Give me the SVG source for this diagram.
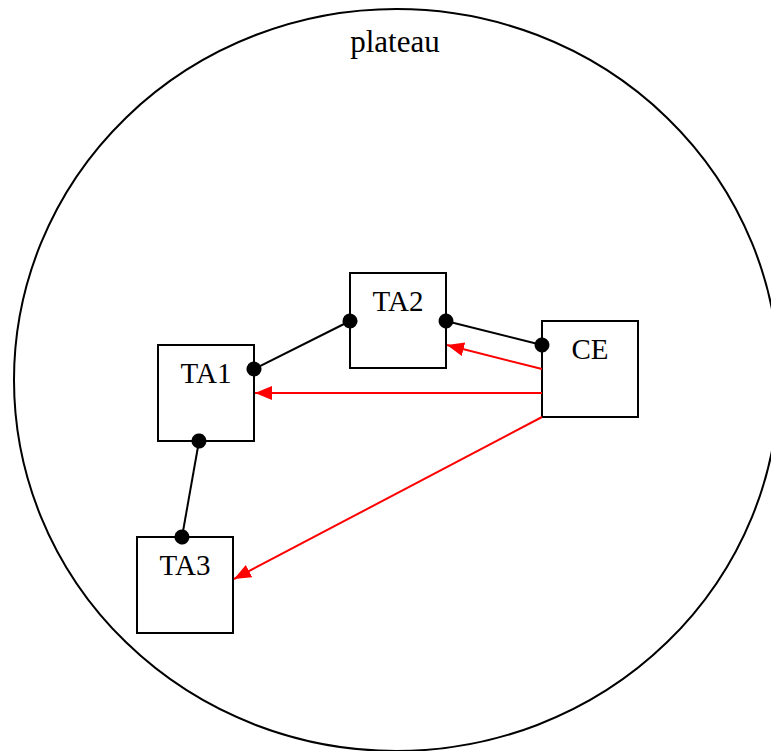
<svg xmlns="http://www.w3.org/2000/svg" width="771" height="751" viewBox="0 0 771 751">
  <style>
    .lbl { font-family: "Liberation Serif", "Times New Roman", serif; font-size: 29px; fill: #000; text-anchor: middle; }
    .title { font-size: 31px; }
    .box { fill: #fff; stroke: #000; stroke-width: 2; }
    .link { stroke: #000; stroke-width: 2; fill: none; marker-start: url(#dot); marker-end: url(#dot); }
    .red { stroke: #ff0000; stroke-width: 2; fill: none; marker-end: url(#arr); }
  </style>
  <defs>
    <marker id="dot" markerUnits="userSpaceOnUse" markerWidth="16" markerHeight="16" refX="8" refY="8" orient="auto">
      <circle cx="8" cy="8" r="7.5" fill="#000"/>
    </marker>
    <marker id="arr" markerUnits="userSpaceOnUse" markerWidth="18" markerHeight="16" refX="17" refY="7" orient="auto">
      <path d="M0,0 L17,7 L0,14 Z" fill="#ff0000"/>
    </marker>
  </defs>
  <rect width="771" height="751" fill="#fff"/>
  <g id="plateau">
    <ellipse cx="396.5" cy="380" rx="382.5" ry="371" fill="none" stroke="#000" stroke-width="2"/>
    <text class="lbl title" x="395" y="52">plateau</text>
  </g>
  <g id="TA2">
    <rect class="box" x="350" y="273" width="96" height="95"/>
    <text class="lbl" x="398" y="311">TA2</text>
  </g>
  <g id="TA1">
    <rect class="box" x="158" y="345" width="96" height="96"/>
    <text class="lbl" x="206" y="383">TA1</text>
  </g>
  <g id="CE">
    <rect class="box" x="542" y="321" width="96" height="96"/>
    <text class="lbl" x="590" y="359">CE</text>
  </g>
  <g id="TA3">
    <rect class="box" x="137" y="537" width="96" height="96"/>
    <text class="lbl" x="185" y="575">TA3</text>
  </g>
  <g id="connectors">
    <line class="link" x1="254" y1="369" x2="350" y2="321"/>
    <line class="link" x1="446" y1="321" x2="542" y2="345"/>
    <line class="link" x1="199" y1="441" x2="182" y2="537"/>
    <line class="red" x1="542" y1="369" x2="447" y2="345"/>
    <line class="red" x1="542" y1="393" x2="255" y2="393"/>
    <line class="red" x1="542" y1="417" x2="234" y2="579"/>
  </g>
</svg>
